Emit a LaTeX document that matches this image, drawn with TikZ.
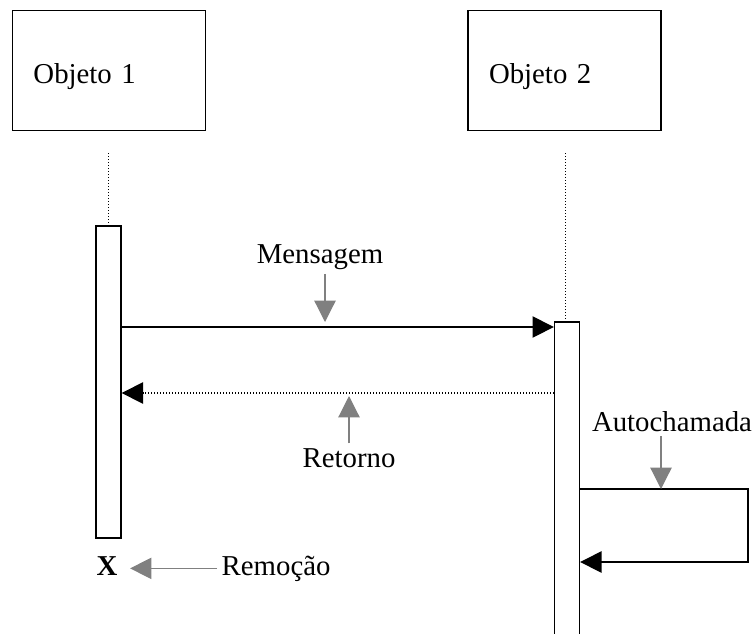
\documentclass[tikz,border=0pt]{standalone}
\usepackage{fontspec}
\setmainfont{Liberation Serif}
\usepackage{tikz}
\usetikzlibrary{arrows.meta}
\definecolor{arrowgray}{RGB}{128,128,128}
\definecolor{black}{RGB}{0,0,0}

\begin{document}
\begin{tikzpicture}[x=0.75pt,y=-0.75pt,
	font=\fontsize{21.6}{26}\selectfont,
	objbox/.style={draw=black,line width=1pt,minimum width=144.75pt,minimum height=90pt,
		text width=113.25pt,inner xsep=15.75pt,align=left,text height=18.75pt,text depth=0pt},
	actbar/.style={draw=black,line width=1pt,fill=white,minimum width=18.75pt,inner sep=0pt},
	lifeline/.style={black,line width=0.75pt,dash pattern=on 0.75pt off 1.5pt},
	call/.style={black,line width=1pt,-{Triangle[length=16pt,width=16pt]}},
	reply/.style={call,dash pattern=on 0.75pt off 1.5pt},
	pointer/.style={arrowgray,line width=0.9pt,-{Triangle[length=16pt,width=16pt]}}]
	\useasboundingbox (0,0) rectangle (756,633);
	\clip (0,0) rectangle (756,633);

	\node[objbox] (obj1) at (109,70.5) {Objeto 1};
	\node[objbox] (obj2) at (564.5,70.5) {Objeto 2};

	\node[actbar,minimum height=234pt] (act1) at (108.5,382) {};
	\node[actbar,minimum height=246pt] (act2) at (567,486) {};

	\coordinate (top1) at (108,153);
	\coordinate (top2) at (565,153);
	\draw[lifeline] (top1) -- (top1 |- act1.north);
	\draw[lifeline] (top2) -- (top2 |- act2.north);

	\draw[call] (act1.east |- 0,327) -- (act2.west |- 0,327);
	\draw[reply] (act2.west |- 0,393) -- (act1.east |- 0,393);

	\coordinate (loop) at (748,489);
	\draw[call] (act2.east |- loop) -- (loop) |- (act2.east |- 0,562);

	\node[anchor=base] (msglbl) at (320,263) {Mensagem};
	\node[anchor=base] (retlbl) at (349,467) {Retorno};
	\node[anchor=base] (selflbl) at (672,431) {Autochamada};
	\node[anchor=base] (xmark) at (107,575) {\bfseries X};
	\node[anchor=base west] (remlbl) at (217,575) {Remoção};

	\draw[pointer] (msglbl.south -| 325,0) -- (325,322);
	\draw[pointer] (retlbl.north) -- (349,396);
	\draw[pointer] (selflbl.south -| 661,0) -- (661,489);
	\draw[pointer,shorten >=6pt] (remlbl.west) -- (remlbl.west -| xmark.east);
\end{tikzpicture}
\end{document}
